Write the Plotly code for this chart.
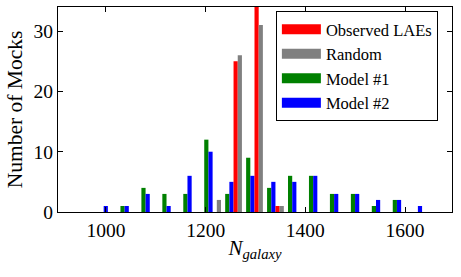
import plotly.graph_objects as go

# Histogram bins (centers), width 42
bin_centers = [1004, 1046, 1088, 1130, 1172, 1214, 1256, 1298, 1340, 1382,
               1424, 1466, 1508, 1550, 1592, 1634]
observed_laes = [0, 0, 0, 0, 0, 0, 25, 34, 1, 0, 0, 0, 0, 0, 0, 0]
random_counts = [0, 0, 0, 0, 0, 2, 26, 31, 1, 0, 0, 0, 0, 0, 0, 0]
model1_counts = [0, 1, 4, 3, 3, 12, 3, 9, 4, 6, 6, 3, 3, 1, 2, 0]
model2_counts = [1, 1, 3, 1, 6, 10, 5, 6, 5, 5, 6, 3, 3, 2, 2, 1]

series_names = ["Observed LAEs", "Random", "Model #1", "Model #2"]
series_colors = ["#ff0000", "#808080", "#008000", "#0000ff"]
x_ticks = [1000, 1200, 1400, 1600]
y_ticks = [0, 10, 20, 30]

FONT = "Liberation Serif"

fig = go.Figure()
# bars in group order: Model #1, Model #2, Observed, Random
for name, vals, col in [("Model #1", model1_counts, series_colors[2]),
                        ("Model #2", model2_counts, series_colors[3]),
                        ("Observed LAEs", observed_laes, series_colors[0]),
                        ("Random", random_counts, series_colors[1])]:
    fig.add_trace(go.Bar(x=bin_centers, y=vals, name=name, marker_color=col,
                         marker_line_width=0, showlegend=False))

# legend entries (wide swatches)
for rank, (name, col) in enumerate(zip(series_names, series_colors)):
    fig.add_trace(go.Scatter(x=[None], y=[None], mode="lines", name=name,
                             line=dict(color=col, width=13),
                             legendrank=rank + 1, showlegend=True))

fig.update_layout(
    width=461, height=277,
    margin=dict(l=58, r=9, t=7, b=65),
    paper_bgcolor="white", plot_bgcolor="white",
    barmode="group", bargap=0.2, bargroupgap=0,
    font=dict(family=FONT, color="black", size=19),
    legend=dict(x=0.553, y=0.98, xanchor="left", yanchor="top",
                bordercolor="black", borderwidth=1, bgcolor="white",
                font=dict(family=FONT, size=16.5), itemwidth=39,
                tracegroupgap=0),
)
fig.update_xaxes(range=[904, 1694], tickvals=x_ticks, ticks="inside", ticklen=5,
                 tickcolor="black", showline=True, linecolor="black", linewidth=1.3,
                 mirror="ticks", showgrid=False, zeroline=False,
                 tickfont=dict(family=FONT, size=19.5),
                 title=dict(text="<i>N</i><sub><i>galaxy</i></sub>",
                            font=dict(family=FONT, size=21), standoff=0))
fig.update_yaxes(range=[0, 34], tickvals=y_ticks, ticks="inside", ticklen=5,
                 tickcolor="black", showline=True, linecolor="black", linewidth=1.3,
                 mirror="ticks", showgrid=False, zeroline=False,
                 tickfont=dict(family=FONT, size=19.5),
                 title=dict(text="Number of Mocks", font=dict(family=FONT, size=21.5),
                            standoff=4))

fig.write_html("out.html", config={"displayModeBar": False},
               post_script="document.body.style.margin='0';")
